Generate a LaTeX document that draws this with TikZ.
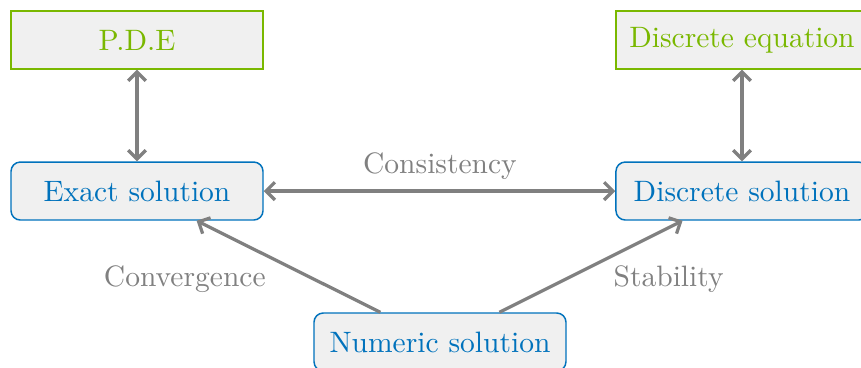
\documentclass[tikz,border=0pt]{standalone}
\usetikzlibrary{arrows.meta}
\definecolor{boxfill}{RGB}{240,240,240}
\definecolor{greentext}{RGB}{122,184,0}
\definecolor{bluetext}{RGB}{0,114,188}
\definecolor{arrowgray}{RGB}{128,128,128}
\tikzset{
  eqbox/.style={draw=greentext, fill=boxfill, text=greentext, line width=0.5pt,
    minimum width=3cm, minimum height=0.69cm, inner sep=0pt},
  solbox/.style={draw=bluetext, fill=boxfill, text=bluetext, line width=0.5pt,
    rounded corners=0.11cm, minimum width=3cm, minimum height=0.69cm, inner sep=0pt},
  conn/.style={draw=arrowgray, line width=1.1pt, {Straight Barb[length=3pt,width=6pt]}-{Straight Barb[length=3pt,width=6pt]}},
  oneway/.style={draw=arrowgray, line width=1.1pt, -{Straight Barb[length=3pt,width=6pt]}},
  lbl/.style={text=arrowgray, inner sep=0pt}
}
\begin{document}
\begin{tikzpicture}
\useasboundingbox (0,0) rectangle (10.25,-4.369);
\node[eqbox] (pde) at (1.631,-0.476) {P.D.E};
\node[eqbox] (deq) at (8.833,-0.476) {Discrete equation};
\node[solbox] (exact) at (1.631,-2.274) {Exact solution};
\node[solbox] (dsol) at (8.833,-2.274) {Discrete solution};
\node[solbox] (num) at (5.238,-4.071) {Numeric solution};
\draw[conn] (pde) -- (exact);
\draw[conn] (deq) -- (dsol);
\draw[conn] (exact) -- (dsol);
\draw[oneway] (num) -- (exact);
\draw[oneway] (num) -- (dsol);
\node[lbl] (lcons) at (5.238,-1.976) {Consistency};
\node[lbl] (lconv) at (2.20,-3.32) {Convergence};
\node[lbl] (lstab) at (7.96,-3.32) {Stability};
\end{tikzpicture}
\end{document}
